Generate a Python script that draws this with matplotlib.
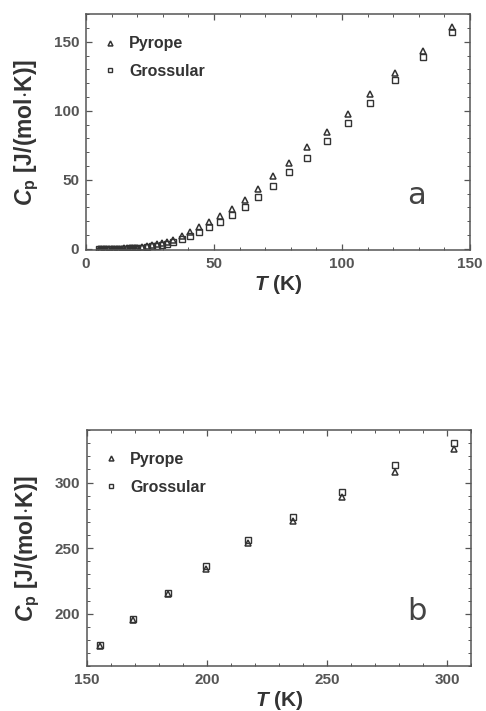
import numpy as np
import matplotlib
matplotlib.use("Agg")
import matplotlib.pyplot as plt
from matplotlib.ticker import MultipleLocator

# --- panel a: low temperature ---
t_low = [5, 6, 7, 8, 9, 10, 11, 12, 13, 14, 15, 16, 17, 18, 19, 20,
         21.7, 23.7, 25.7, 27.6, 29.6, 31.5, 34.1, 37.4, 40.6, 44.3,
         48.2, 52.3, 57.0, 62.0, 67.1, 73.2, 79.4, 86.5, 94.0, 102.2,
         110.9, 120.8, 131.5, 142.8]
pyrope_low = [0.01, 0.02, 0.03, 0.05, 0.07, 0.1, 0.13, 0.17, 0.22, 0.28,
              0.35, 0.43, 0.53, 0.65, 0.8, 0.95, 1.3, 1.8, 2.5, 3.2, 4.0,
              5.0, 6.6, 9.0, 12.0, 15.5, 19.5, 24.0, 29.0, 35.5, 43.5,
              52.5, 62.5, 73.5, 85.0, 98.0, 112.0, 127.5, 143.0, 160.5]
grossular_low = [0.01, 0.01, 0.02, 0.03, 0.04, 0.06, 0.08, 0.1, 0.13, 0.17,
                 0.22, 0.28, 0.35, 0.43, 0.53, 0.65, 0.9, 1.3, 1.8, 2.4, 3.1,
                 3.9, 5.0, 7.0, 9.2, 12.3, 15.5, 19.5, 24.3, 30.5, 37.5,
                 45.5, 55.5, 66.0, 77.8, 91.5, 105.5, 122.5, 139.0, 157.0]

# --- panel b: high temperature ---
t_high = [155.3, 169.0, 183.75, 199.7, 216.9, 235.7, 256.25, 278.5, 302.8]
pyrope_high = [175.6, 195.2, 215.0, 234.0, 254.3, 270.8, 289.3, 308.4, 325.4]
grossular_high = [175.8, 195.7, 216.0, 236.5, 256.3, 274.1, 292.9, 313.2, 330.0]

FONT = "Liberation Sans"
TICK_COLOR = "#555555"
LABEL_COLOR = "#333333"
MARK_COLOR = "#333333"

plt.rcParams["font.family"] = [FONT, "DejaVu Sans"]
plt.rcParams["mathtext.fontset"] = "custom"
plt.rcParams["mathtext.rm"] = FONT + ":bold"
plt.rcParams["mathtext.it"] = FONT + ":bold:italic"
plt.rcParams["mathtext.bf"] = FONT + ":bold"

fig = plt.figure(figsize=(4.86, 7.11), dpi=100)
ax_a = fig.add_axes([0.177, 0.648, 0.790, 0.332])
ax_b = fig.add_axes([0.179, 0.063, 0.790, 0.332])


def style_axes(ax, xmaj, ymaj, minor):
    for sp in ax.spines.values():
        sp.set_color("#555555")
        sp.set_linewidth(1.1)
    ax.xaxis.set_major_locator(MultipleLocator(xmaj))
    ax.yaxis.set_major_locator(MultipleLocator(ymaj))
    ax.xaxis.set_minor_locator(MultipleLocator(minor))
    ax.yaxis.set_minor_locator(MultipleLocator(minor))
    ax.tick_params(which="both", direction="in", top=True, right=True,
                   colors="#555555", labelcolor=TICK_COLOR)
    ax.tick_params(which="major", length=4, width=0.9, labelsize=11, pad=5)
    ax.tick_params(which="minor", length=2.5, width=0.7)
    for lbl in ax.get_xticklabels() + ax.get_yticklabels():
        lbl.set_fontweight("bold")


def draw_panel(ax, t, pyr, gro, letter):
    ax.plot(t, pyr, linestyle="none", marker="^", markersize=5,
            markerfacecolor="none", markeredgecolor=MARK_COLOR,
            markeredgewidth=1.1, label="Pyrope")
    ax.plot(t, gro, linestyle="none", marker="s", markersize=4.3,
            markerfacecolor="none", markeredgecolor=MARK_COLOR,
            markeredgewidth=1.0, label="Grossular")
    leg = ax.legend(loc="upper left", frameon=False, handletextpad=0.7,
                    labelspacing=0.8, handlelength=1.0, markerscale=0.7,
                    bbox_to_anchor=(0.0, 0.975), borderaxespad=0.6,
                    prop={"family": FONT, "weight": "bold", "size": 11.5})
    for txt in leg.get_texts():
        txt.set_color(LABEL_COLOR)
    ax.text(0.86, 0.23, letter, transform=ax.transAxes, fontsize=22,
            color="#444444", ha="center", va="center", family="DejaVu Sans")
    ax.set_xlabel(r"$T$ (K)", fontsize=15, fontweight="bold",
                  color=LABEL_COLOR, labelpad=1)
    ax.set_ylabel(r"$C_{\rm p}$ [J/(mol$\cdot$K)]", fontsize=16.5,
                  fontweight="bold", color=LABEL_COLOR, labelpad=9)


draw_panel(ax_a, t_low, pyrope_low, grossular_low, "a")
ax_a.set_xlim(0, 150)
ax_a.set_ylim(-1, 170)
style_axes(ax_a, 50, 50, 10)

draw_panel(ax_b, t_high, pyrope_high, grossular_high, "b")
ax_b.set_xlim(150, 310)
ax_b.set_ylim(160, 340)
style_axes(ax_b, 50, 50, 10)

fig.savefig("out.png", dpi=100)
